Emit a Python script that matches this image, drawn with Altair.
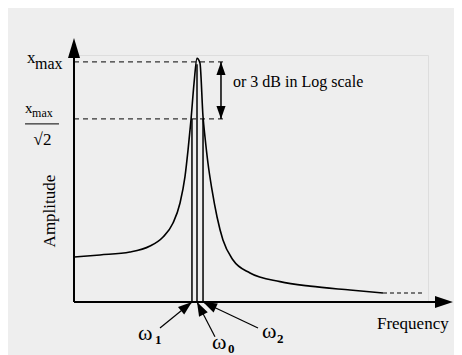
import math
import altair as alt
import pandas as pd

# ---------------- data ----------------
# Frequency in units of omega0, amplitude in units of x_max
curve_f = [0.0, 0.211, 0.455, 0.618, 0.724, 0.805, 0.862, 0.902, 0.927, 0.951,
           0.976, 1.0, 1.024, 1.049, 1.065, 1.089, 1.122, 1.163, 1.211, 1.293,
           1.431, 1.675, 1.919, 2.244, 2.512]
curve_a = [0.1875, 0.196, 0.208, 0.233, 0.271, 0.329, 0.4125, 0.521, 0.633, 0.758,
           0.9125, 1.015, 0.996, 0.771, 0.6875, 0.579, 0.467, 0.354, 0.258, 0.175,
           0.121, 0.085, 0.066, 0.05, 0.0375]
tail_f = [2.512, 2.854]
tail_a = [0.0375, 0.0375]

x_max = 1.0
half_power = 0.7625
dash_end = 1.211

omega_f = [0.959, 1.0, 1.049]          # omega1, omega0, omega2
omega_top = [0.7625, 0.99, 0.7625]

arrow_x = 1.195                         # "or 3 dB" double arrow

# label arrows: start -> tip
lab_start_f = [0.699, 1.146, 1.496]
lab_start_a = [-0.108, -0.145, -0.108]

axis_y_top = 1.10
axis_x_end = 3.081

X_DOM = [0.0, 2.878]
Y_DOM = [0.0, 1.029]
W, H = 354, 247
SX = W / (X_DOM[1] - X_DOM[0])
SY = H / (Y_DOM[1] - Y_DOM[0])

FONT = "Liberation Serif"

xs = alt.Scale(domain=X_DOM, nice=False, zero=False)
ys = alt.Scale(domain=Y_DOM, nice=False, zero=False)


def X(f):
    return alt.X(f, type="quantitative", scale=xs, axis=None)


def Y(f):
    return alt.Y(f, type="quantitative", scale=ys, axis=None)


def ang(dx_data, dy_data):
    dx = dx_data * SX
    dy = -dy_data * SY
    return math.degrees(math.atan2(dx, -dy)) % 360


HEAD = "M0,0L0.35,1L-0.35,1Z"  # tip at origin, pointing up

# ---------------- layers ----------------
curve = alt.Chart(pd.DataFrame({"f": curve_f, "a": curve_a})).mark_line(
    color="black", strokeWidth=1.6, clip=False, interpolate="monotone"
).encode(x=X("f"), y=Y("a"))

tail = alt.Chart(pd.DataFrame({"f": tail_f, "a": tail_a})).mark_line(
    color="black", strokeWidth=1.2, strokeDash=[4, 3]
).encode(x=X("f"), y=Y("a"))

dashes = alt.Chart(pd.DataFrame({"f1": [0.0, 0.0], "f2": [dash_end, dash_end],
                                 "a": [x_max, half_power]})).mark_rule(
    color="#333333", strokeWidth=1.2, strokeDash=[5, 4]
).encode(x=X("f1"), x2="f2", y=Y("a"))

vlines = alt.Chart(pd.DataFrame({"f": omega_f, "a0": [0, 0, 0], "a1": omega_top})).mark_rule(
    color="black", strokeWidth=1.5
).encode(x=X("f"), y=Y("a0"), y2="a1")

axes = alt.Chart(pd.DataFrame({"f1": [0.0, 0.0], "f2": [0.0, axis_x_end - 0.05],
                               "a1": [0.0, 0.0], "a2": [axis_y_top - 0.05, 0.0]})).mark_rule(
    color="black", strokeWidth=2
).encode(x=X("f1"), x2="f2", y=Y("a1"), y2="a2")

yhead = alt.Chart(pd.DataFrame({"f": [0.0], "a": [axis_y_top]})).mark_point(
    shape="M0,0L0.3,1L-0.3,1Z", size=1600, filled=True, color="black", opacity=1
).encode(x=X("f"), y=Y("a"))

xhead = alt.Chart(pd.DataFrame({"f": [axis_x_end], "a": [0.0]})).mark_point(
    shape="M0,0L-1,-0.333L-1,0.333Z", size=1296, filled=True, color="black", opacity=1
).encode(x=X("f"), y=Y("a"))

dbl = alt.Chart(pd.DataFrame({"f": [arrow_x], "a1": [x_max], "a2": [half_power]})).mark_rule(
    color="black", strokeWidth=1.5
).encode(x=X("f"), y=Y("a1"), y2="a2")

dbl_heads = alt.Chart(pd.DataFrame({"f": [arrow_x, arrow_x], "a": [x_max, half_power],
                                    "ang": [0, 180]})).mark_point(
    shape=HEAD, size=676, filled=True, color="black", opacity=1
).encode(x=X("f"), y=Y("a"), angle=alt.Angle("ang:Q", scale=None))

lab_df = pd.DataFrame({"f1": lab_start_f, "a1": lab_start_a,
                       "f2": omega_f, "a2": [0.0, 0.0, 0.0]})
lab_df["ang"] = [ang(r.f2 - r.f1, r.a2 - r.a1) for r in lab_df.itertuples()]

lab_lines = alt.Chart(lab_df).mark_rule(color="black", strokeWidth=1.2).encode(
    x=X("f1"), x2="f2", y=Y("a1"), y2="a2")

lab_heads = alt.Chart(lab_df).mark_point(
    shape=HEAD, size=784, filled=True, color="black", opacity=1
).encode(x=X("f2"), y=Y("a2"), angle=alt.Angle("ang:Q", scale=None))

frac_bar = alt.Chart(pd.DataFrame({"f1": [-0.398], "f2": [-0.122], "a": [0.742]})).mark_rule(
    color="black", strokeWidth=1
).encode(x=X("f1"), x2="f2", y=Y("a"))

# texts (left aligned)
txt_left = pd.DataFrame({
    "t": ["x", "max", "x", "max", "or 3 dB in Log scale", "Frequency", "ω", "ω", "ω"],
    "f": [-0.382, -0.317, -0.398, -0.341, 1.293, 2.463, 0.520, 1.122, 1.528],
    "a": [0.996, 0.971, 0.7875, 0.771, 0.896, -0.1125, -0.158, -0.197, -0.15],
    "s": [17, 16, 15, 12, 16, 17, 22, 22, 22],
})
texts = alt.Chart(txt_left).mark_text(
    align="left", baseline="alphabetic", font=FONT, color="black"
).encode(x=X("f"), y=Y("a"), text="t:N", size=alt.Size("s:Q", scale=None))

txt_sub = pd.DataFrame({
    "t": ["1", "0", "2"],
    "f": [0.659, 1.252, 1.650],
    "a": [-0.175, -0.212, -0.171],
})
subs = alt.Chart(txt_sub).mark_text(
    align="left", baseline="alphabetic", font=FONT, fontSize=13, fontWeight="bold", color="black"
).encode(x=X("f"), y=Y("a"), text="t:N")

txt_c = pd.DataFrame({"t": ["√2", "Amplitude"], "f": [-0.256, -0.154],
                      "a": [0.654, 0.379], "s": [17, 17], "r": [0, 270]})
ctexts = alt.Chart(txt_c).mark_text(
    align="center", baseline="alphabetic", font=FONT, color="black"
).encode(x=X("f"), y=Y("a"), text="t:N", size=alt.Size("s:Q", scale=None),
         angle=alt.Angle("r:Q", scale=None))

chart = alt.layer(
    dashes, vlines, curve, tail, axes, yhead, xhead, dbl, dbl_heads,
    lab_lines, lab_heads, frac_bar, texts, subs, ctexts
).properties(
    width=W, height=H,
    padding={"left": 66, "top": 47, "right": 26, "bottom": 53},
    autosize=alt.AutoSizeParams(type="none"),
    background="#eeeeee",
).configure_view(fill="white", strokeWidth=0).configure_text(font=FONT).configure(font=FONT)

chart.save("out.html", embed_options={"renderer": "svg", "actions": False})
